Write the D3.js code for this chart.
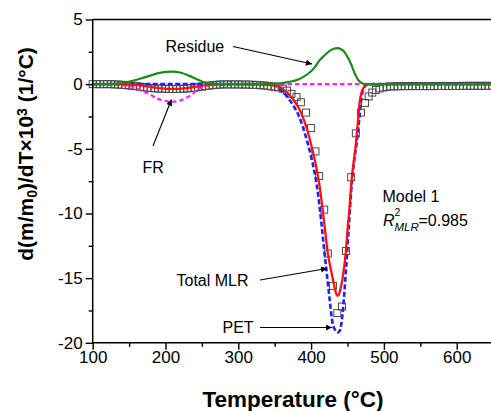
<!DOCTYPE html>
<html>
<head>
<meta charset="utf-8">
<script src="https://cdn.jsdelivr.net/npm/d3@7"></script>
<style>
  body { margin: 0; background: #fff; }
  svg text { font-family: "Liberation Sans", Arial, sans-serif; }
</style>
</head>
<body>
<svg id="chart" width="491" height="411"></svg>
<script>
// ======================
// DATA
// ======================

// experimental points (open squares)
const expT = [100, 105, 110, 115, 120, 125, 130, 135, 140, 145, 150, 155, 160, 165, 170, 175, 180, 185, 190, 195,
  200, 205, 210, 215, 220, 225, 230, 235, 240, 245, 250, 255, 260, 265, 270, 275, 280, 285, 290, 295,
  300, 305, 310, 315, 320, 325, 330, 335, 340, 345, 350, 355,
  361, 367, 373, 380, 386, 393, 400, 406, 411, 418, 423, 430, 436, 442.5, 448, 455, 461.5, 468.5, 474, 479,
  484, 489, 494, 499, 504, 509, 514, 519, 524, 529, 534, 539, 544, 549, 554, 559, 564, 569, 574, 579,
  584, 589, 594, 599, 604, 609, 614, 619, 624, 629, 634, 639, 644, 649];
const expV = [0, 0, 0, 0, 0, 0, -0.02, -0.03, -0.05, -0.07, -0.1, -0.13, -0.16, -0.2, -0.24, -0.27, -0.3, -0.32, -0.34, -0.35,
  -0.36, -0.37, -0.37, -0.37, -0.36, -0.35, -0.33, -0.3, -0.27, -0.23, -0.19, -0.15, -0.11, -0.08, -0.05, -0.03, -0.02, -0.02, -0.02, -0.02,
  -0.02, -0.03, -0.03, -0.04, -0.05, -0.06, -0.08, -0.1, -0.13, -0.17, -0.21, -0.25,
  -0.35, -0.5, -0.75, -1.0, -1.4, -2.2, -3.4, -5.2, -7.1, -9.7, -13.1, -15.6, -17.7, -17.2, -12.9, -7.2, -3.8, -2.2, -1.45, -0.95,
  -0.65, -0.45, -0.33, -0.26, -0.21, -0.18, -0.17, -0.16, -0.16, -0.15, -0.15, -0.15, -0.15, -0.15, -0.15, -0.15, -0.15, -0.15, -0.14, -0.14,
  -0.14, -0.14, -0.14, -0.14, -0.14, -0.13, -0.13, -0.13, -0.13, -0.13, -0.13, -0.13, -0.13, -0.13];

// total MLR (red solid)
const totalT = [100, 130, 150, 165, 180, 195, 210, 225, 240, 255, 270, 290, 320, 340, 350, 356, 361, 368, 375, 386, 395, 402, 408,
  412, 416, 420, 423, 427, 430, 433, 436, 438, 440, 443, 445.5, 448, 450, 452.5, 456, 458.5, 461, 464, 467, 469, 471, 474, 477, 485, 650];
const totalV = [0, 0, -0.03, -0.1, -0.22, -0.33, -0.37, -0.33, -0.22, -0.1, -0.03, 0, -0.01, -0.05, -0.12, -0.2, -0.38, -0.7, -1.15, -2.18, -3.6, -5.13, -6.67,
  -8.0, -9.75, -11.7, -13.1, -14.3, -15.1, -15.9, -16.36, -16.3, -15.9, -15.1, -14.1, -12.8, -11.3, -9.75, -7.2, -6.0, -4.9, -3.1, -1.28, -0.7, -0.38, -0.12, -0.02, 0, 0];

// PET (blue dashed)
const petT = [100, 330, 345, 352, 359, 366, 372.6, 384, 393, 400, 406, 410, 413.7, 417, 420.5, 425, 429.6, 433, 436.4, 439, 441,
  443.3, 447, 451.5, 456, 459, 462.5, 466, 469.3, 473, 477, 485, 650];
const petV = [0, 0, -0.05, -0.15, -0.5, -0.9, -1.4, -2.57, -4.1, -5.6, -7.2, -8.7, -10.5, -12.3, -14.1, -16.4, -18.5, -19.0, -19.2, -19.1, -18.7,
  -17.7, -15.1, -11.3, -7.6, -6.0, -4.6, -2.8, -1.0, -0.25, -0.05, 0, 0];

// FR (magenta dashed)
const frT = [100, 130, 145, 155, 165, 178, 188, 195, 203, 210, 218, 228, 235, 242, 248, 254, 262, 275, 650];
const frV = [0, -0.02, -0.1, -0.22, -0.45, -0.77, -1.1, -1.23, -1.33, -1.36, -1.3, -1.08, -0.85, -0.52, -0.3, -0.13, -0.04, 0, 0];

// Residue (green solid)
const resT = [100, 130, 140, 155, 165, 178, 190, 200, 210, 220, 233, 243, 251, 258, 265, 280, 300, 330, 345, 357, 370, 380, 390,
  398, 405, 411, 418, 425, 431, 436, 441, 445.5, 450, 455, 458, 461.5, 465, 468.5, 472, 476, 650];
const resV = [0, 0.02, 0.08, 0.25, 0.42, 0.64, 0.85, 0.95, 0.97, 0.9, 0.64, 0.38, 0.18, 0.08, 0.04, 0.01, 0.01, 0.02, 0.04, 0.06, 0.18, 0.31, 0.58,
  0.9, 1.3, 1.8, 2.2, 2.56, 2.74, 2.78, 2.7, 2.5, 2.1, 1.54, 1.1, 0.64, 0.3, 0.12, 0.03, 0, 0];

const xMajor = [100, 200, 300, 400, 500, 600];
const xMinor = [150, 250, 350, 450, 550, 650];
const yMajor = [5, 0, -5, -10, -15, -20];
const yMinor = [2.5, -2.5, -7.5, -12.5, -17.5];

// ======================
// SETUP
// ======================

const svg = d3.select("#chart");
svg.append("rect").attr("width", 491).attr("height", 411).attr("fill", "#fff");

const x = d3.scaleLinear().domain([100, 650]).range([92.7, 493.1]);
const y = d3.scaleLinear().domain([-20, 5]).range([342.8, 19.5]);

const zip = (a, b) => a.map((t, i) => [t, b[i]]);

const line = d3.line()
    .x(d => x(d[0]))
    .y(d => y(d[1]))
    .curve(d3.curveMonotoneX);

// experimental squares first (lines go on top)
svg.append("g")
    .selectAll("rect")
    .data(zip(expT, expV))
    .enter()
    .append("rect")
    .attr("x", d => x(d[0]) - 3.5)
    .attr("y", d => y(d[1]) - 3.5)
    .attr("width", 7)
    .attr("height", 7)
    .attr("fill", "none")
    .attr("stroke", "#4a4a4a")
    .attr("stroke-width", 1);

// model curves
svg.append("path").datum(zip(petT, petV))
    .attr("d", line).attr("fill", "none")
    .attr("stroke", "#1f1fff").attr("stroke-width", 2.6)
    .attr("stroke-dasharray", "5,2.5");

svg.append("path").datum(zip(frT, frV))
    .attr("d", line).attr("fill", "none")
    .attr("stroke", "#ff1fff").attr("stroke-width", 2.2)
    .attr("stroke-dasharray", "4.5,3");

svg.append("path").datum(zip(totalT, totalV))
    .attr("d", line).attr("fill", "none")
    .attr("stroke", "#ff1010").attr("stroke-width", 2.3);

svg.append("path").datum(zip(resT, resV))
    .attr("d", line).attr("fill", "none")
    .attr("stroke", "#1a8a1a").attr("stroke-width", 2.2);

// ======================
// AXES
// ======================

const fmt = d => String(d);

svg.append("g")
    .attr("transform", `translate(0,${y(-20)})`)
    .call(d3.axisBottom(x).tickValues(xMajor).tickSize(7).tickPadding(1).tickFormat(fmt));
svg.append("g")
    .attr("transform", `translate(0,${y(-20)})`)
    .call(d3.axisBottom(x).tickValues(xMinor).tickSize(4).tickFormat(""));

svg.append("g")
    .attr("transform", `translate(${x(100)},0)`)
    .call(d3.axisLeft(y).tickValues(yMajor).tickSize(7).tickPadding(3).tickFormat(fmt));
svg.append("g")
    .attr("transform", `translate(${x(100)},0)`)
    .call(d3.axisLeft(y).tickValues(yMinor).tickSize(4).tickFormat(""));

svg.selectAll(".domain").remove();
svg.selectAll(".tick line").attr("stroke", "#000").attr("stroke-width", 1.4);
svg.selectAll(".tick text")
    .attr("fill", "#000")
    .style("font-size", "17px")
    .style("font-family", "'Liberation Sans', Arial, sans-serif");

// frame
svg.append("path")
    .attr("d", `M${x(100)},${y(5)}H${x(650)}M${x(100)},${y(5)}V${y(-20)}H${x(650)}V${y(5)}`)
    .attr("fill", "none")
    .attr("stroke", "#000")
    .attr("stroke-width", 1.5);

// axis titles
svg.append("text")
    .attr("x", 293)
    .attr("y", 407)
    .attr("text-anchor", "middle")
    .style("font-size", "22.5px")
    .style("font-weight", "bold")
    .text("Temperature (\u00B0C)");

const yLab = svg.append("text")
    .attr("transform", "translate(33,154) rotate(-90)")
    .attr("text-anchor", "middle")
    .style("font-size", "21px")
    .style("font-weight", "bold");
yLab.append("tspan").text("d(m/m");
yLab.append("tspan").attr("baseline-shift", "-25%").style("font-size", "14px").text("0");
yLab.append("tspan").text(")/dT\u00D710");
yLab.append("tspan").attr("baseline-shift", "40%").style("font-size", "14px").text("3");
yLab.append("tspan").text(" (1/\u00B0C)");

// ======================
// ANNOTATIONS
// ======================

svg.append("defs").append("marker")
    .attr("id", "arrow")
    .attr("viewBox", "0 0 10 10")
    .attr("refX", 10)
    .attr("refY", 5)
    .attr("markerUnits", "userSpaceOnUse")
    .attr("markerWidth", 9)
    .attr("markerHeight", 6)
    .attr("orient", "auto")
    .append("path")
    .attr("d", "M0,0L10,5L0,10Z")
    .attr("fill", "#000");

const arrows = [
    [233, 46.5, 312, 64],
    [153, 146, 171.5, 99.5],
    [260, 280, 327, 268.5],
    [260, 327.5, 332, 327.5]
];
svg.append("g").selectAll("line")
    .data(arrows)
    .enter()
    .append("line")
    .attr("x1", d => d[0]).attr("y1", d => d[1])
    .attr("x2", d => d[2]).attr("y2", d => d[3])
    .attr("stroke", "#000")
    .attr("stroke-width", 1.1)
    .attr("marker-end", "url(#arrow)");

const labels = [
    ["Residue", 165.5, 51.7],
    ["FR", 142.5, 172.5],
    ["Total MLR", 176.5, 285.5],
    ["PET", 222.5, 332.5],
    ["Model 1", 382.5, 202]
];
svg.append("g").selectAll("text")
    .data(labels)
    .enter()
    .append("text")
    .attr("x", d => d[1])
    .attr("y", d => d[2])
    .style("font-size", "16px")
    .text(d => d[0]);

// R^2_MLR = 0.985
const r2 = svg.append("g");
r2.append("text").attr("x", 383).attr("y", 226)
    .style("font-size", "16px").style("font-style", "italic").text("R");
r2.append("text").attr("x", 394.5).attr("y", 215.5)
    .style("font-size", "10.5px").text("2");
r2.append("text").attr("x", 394.5).attr("y", 231)
    .style("font-size", "11.5px").style("font-style", "italic").text("MLR");
r2.append("text").attr("x", 418.5).attr("y", 226)
    .style("font-size", "16px").text("=0.985");
</script>
</body>
</html>
